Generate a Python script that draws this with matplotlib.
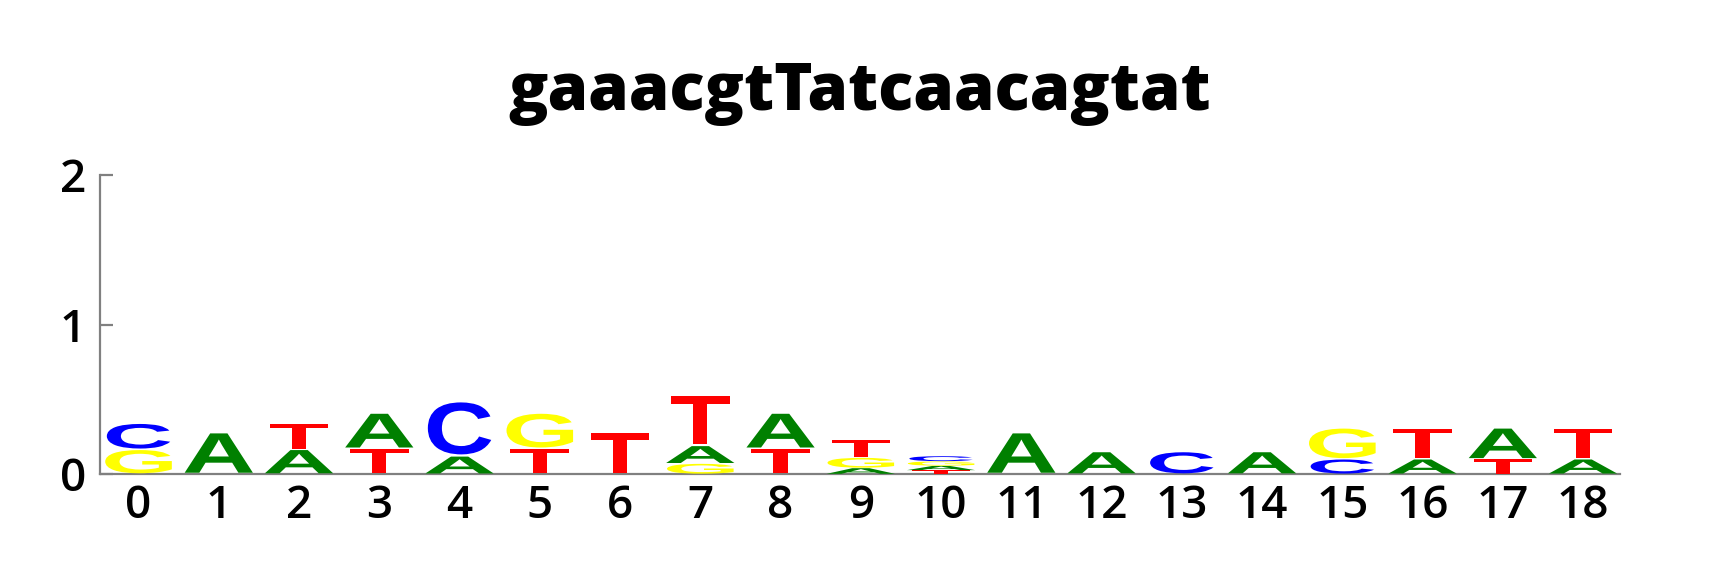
import matplotlib
matplotlib.use("Agg")
import matplotlib.pyplot as plt
from matplotlib.textpath import TextPath
from matplotlib.patches import PathPatch
from matplotlib.font_manager import FontProperties
from matplotlib.transforms import Affine2D

title = "gaaacgtTatcaacagtat"
positions = list(range(19))
A_h = [0, 0.28, 0.165, 0.24, 0.12, 0, 0, 0.12, 0.24, 0.04, 0.03, 0.28, 0.15, 0, 0.15, 0, 0.10, 0.21, 0.10]
C_h = [0.175, 0, 0, 0, 0.37, 0, 0, 0, 0, 0, 0.035, 0, 0, 0.15, 0, 0.10, 0, 0, 0]
G_h = [0.165, 0, 0, 0, 0, 0.24, 0, 0.07, 0, 0.07, 0.03, 0, 0, 0, 0, 0.21, 0, 0, 0]
T_h = [0, 0, 0.175, 0.17, 0, 0.17, 0.28, 0.34, 0.17, 0.12, 0.025, 0, 0, 0, 0, 0, 0.21, 0.10, 0.21]
bases = ["A", "C", "G", "T"]
colors = {"A": "#008000", "C": "#0000ff", "G": "#ffff00", "T": "#ff0000"}
glyph_w = {"A": 0.85, "C": 0.79, "G": 0.83, "T": 0.73}
yticks = [0, 1, 2]

W, H = 1720, 575
fig = plt.figure(figsize=(W / 100, H / 100), dpi=100)
ax = fig.add_axes([100 / W, (H - 474) / H, 1520 / W, (474 - 175) / H])

gfont = FontProperties(family="Liberation Sans", weight="bold")
heights = {"A": A_h, "C": C_h, "G": G_h, "T": T_h}

def draw_letter(letter, x, y0, h):
    tp = TextPath((0, 0), letter, size=1, prop=gfont)
    ext = tp.get_extents()
    w = glyph_w[letter]
    pad = 0.06 * h
    tr = (Affine2D().translate(-ext.x0, -ext.y0)
          .scale(w / ext.width, (h - pad) / ext.height)
          .translate(x - w / 2, y0 + pad / 2))
    patch = PathPatch(tp, transform=tr + ax.transData, facecolor=colors[letter],
                      edgecolor="none", zorder=3)
    ax.add_patch(patch)

for i, pos in enumerate(positions):
    stack = sorted([(heights[b][i], b) for b in bases if heights[b][i] > 0])
    y = 0.0
    for h, b in stack:
        draw_letter(b, pos, y, h)
        y += h

ax.set_xlim(-0.48, 18.46)
ax.set_ylim(0, 2)
for s in ["top", "right"]:
    ax.spines[s].set_visible(False)
for s in ["left", "bottom"]:
    ax.spines[s].set_color("#808080")
    ax.spines[s].set_linewidth(1.6)

tfont = dict(family=["Open Sans", "DejaVu Sans"], size=33, weight="semibold")
ax.set_xticks(positions)
ax.set_xticklabels([str(p) for p in positions], **tfont)
ax.set_yticks(yticks)
ax.set_yticklabels([str(v) for v in yticks], **tfont)
ax.tick_params(axis="x", length=0, pad=7)
ax.tick_params(axis="y", direction="in", length=9, width=1.6, color="#808080", pad=10)

fig.text(860 / W, 1 - 110 / H, title, ha="center", va="baseline",
         family=["Open Sans", "DejaVu Sans"], weight="heavy", size=47)

fig.savefig("out.png", dpi=100)
